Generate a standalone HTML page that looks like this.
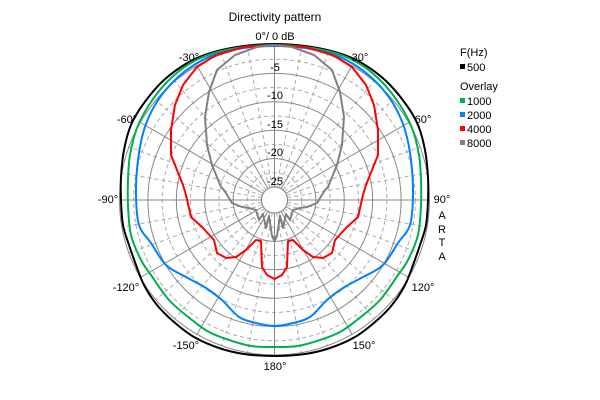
<!DOCTYPE html>
<html><head><meta charset="utf-8"><style>
html,body{margin:0;padding:0;background:#fff}
svg{display:block}
text{font-family:"Liberation Sans",sans-serif;font-size:11px;fill:#000}
</style></head><body>
<svg id="s" width="600" height="400" viewBox="0 0 600 400">
<g id="grid"></g>
<g id="curves" fill="none" stroke-width="2" stroke-linejoin="round"></g>
<circle cx="274.5" cy="200" r="13" fill="#fff" stroke="#888" stroke-width="1"/>
<text x="275" y="21" text-anchor="middle" style="font-size:12px">Directivity pattern</text>
<text x="275" y="40" text-anchor="middle">0°/ 0 dB</text>
<text x="275" y="71" text-anchor="middle">-5</text>
<text x="275" y="99" text-anchor="middle">-10</text>
<text x="275" y="128" text-anchor="middle">-15</text>
<text x="275" y="156" text-anchor="middle">-20</text>
<text x="275" y="185" text-anchor="middle">-25</text>
<text x="360" y="61" text-anchor="middle">30°</text>
<text x="423" y="123" text-anchor="middle">60°</text>
<text x="442" y="203" text-anchor="middle">90°</text>
<text x="423" y="291" text-anchor="middle">120°</text>
<text x="364" y="349" text-anchor="middle">150°</text>
<text x="275" y="370" text-anchor="middle">180°</text>
<text x="186" y="349" text-anchor="middle">-150°</text>
<text x="126" y="291" text-anchor="middle">-120°</text>
<text x="108" y="203" text-anchor="middle">-90°</text>
<text x="127" y="123" text-anchor="middle">-60°</text>
<text x="189" y="61" text-anchor="middle">-30°</text>
<text x="442" y="219" text-anchor="middle">A</text>
<text x="442" y="233" text-anchor="middle">R</text>
<text x="442" y="246" text-anchor="middle">T</text>
<text x="442" y="260" text-anchor="middle">A</text>
<text x="460" y="56">F(Hz)</text>
<rect x="460" y="64" width="5" height="5" fill="#000"/><text x="467" y="71">500</text>
<text x="460" y="90">Overlay</text>
<rect x="460" y="98" width="5" height="5" fill="#00b050"/><text x="467" y="105">1000</text>
<rect x="460" y="112" width="5" height="5" fill="#0080ff"/><text x="467" y="119">2000</text>
<rect x="460" y="126" width="5" height="5" fill="#ff0000"/><text x="467" y="133">4000</text>
<rect x="460" y="140" width="5" height="5" fill="#808080"/><text x="467" y="147">8000</text>
</svg>
<script>
var NS="http://www.w3.org/2000/svg",cx=274.5,cy=200;
function el(p,t,a){var e=document.createElementNS(NS,t);for(var k in a)e.setAttribute(k,a[k]);p.appendChild(e);return e;}
var g=document.getElementById("grid");
for(var i=0;i<=10;i++){var r=13+i*14.2;if(i%2==1)el(g,"circle",{cx:cx,cy:cy,r:r,fill:"none",stroke:"#aaa","stroke-dasharray":"4,3"});}
for(var a=0;a<360;a+=10){var t=a*Math.PI/180,s=Math.sin(t),c=Math.cos(t);var sol=a%30==0;
el(g,"line",{x1:cx+13*s,y1:cy-13*c,x2:cx+155*s,y2:cy-155*c,stroke:sol?"#888":"#aaa","stroke-dasharray":sol?"":"4,3"});}
for(var i=0;i<=10;i+=2){var r=13+i*14.2;el(g,"circle",{cx:cx,cy:cy,r:r,fill:"none",stroke:"#888"});}
var C=document.getElementById("curves");
function curve(pts,col,smooth){var all=pts.slice();for(var i=pts.length-2;i>0;i--)all.push([2*cx-pts[i][0],pts[i][1]]);
var n=all.length,d="M"+all[0][0]+","+all[0][1];
for(var i=0;i<n;i++){var p0=all[(i-1+n)%n],p1=all[i],p2=all[(i+1)%n],p3=all[(i+2)%n];
if(smooth){var k=6;d+="C"+(p1[0]+(p2[0]-p0[0])/k).toFixed(1)+","+(p1[1]+(p2[1]-p0[1])/k).toFixed(1)+" "+(p2[0]-(p3[0]-p1[0])/k).toFixed(1)+","+(p2[1]-(p3[1]-p1[1])/k).toFixed(1)+" "+p2[0]+","+p2[1];}
else d+="L"+p2[0]+","+p2[1];}
el(C,"path",{d:d+"Z",stroke:col});}
curve([[274.5,44],[305,46],[335,52],[360,62],[385,80],[405,103],[418,125],[425,150],[428,177],[428,200],[426,225],[420,245],[413,265],[405,285],[392,305],[375,322],[355,337],[330,348],[305,354],[274.5,356]],"#000",1);
curve([[274.5,45],[305,47],[335,53],[360,64],[382,82],[400,105],[412,128],[419,155],[421,180],[421,205],[418,235],[408,260],[398,275],[380,300],[357,320],[340,332],[320,340],[298,346],[274.5,347]],"#00b050",1);
curve([[274.5,46],[305,48],[335,55],[358,67],[378,84],[394,105],[405,130],[411,160],[413,195],[410,225],[398,243],[383,265],[363,277],[343,288],[327,300],[310,317],[293,323],[274.5,326]],"#0080ff",1);
curve([[274.5,45],[305,47],[333,55],[352,67],[366,85],[374,105],[378,130],[378,155],[372,170],[366,185],[363,195],[358,217],[347,227],[335,240],[332,253],[323,258],[313,257],[303,250],[293,240],[288,241],[287,267],[282,275],[274.5,279]],"#ff0000",0);
curve([[274.5,45],[292,47],[314,55],[332,70],[340,92],[344,117],[342,145],[337,165],[328,187],[325,190],[317,203],[307,207],[300,208],[293,210],[290,220],[286,214],[283,228],[280,216],[277,236],[275,240],[274.5,236]],"#808080",0);
</script>
</body></html>
